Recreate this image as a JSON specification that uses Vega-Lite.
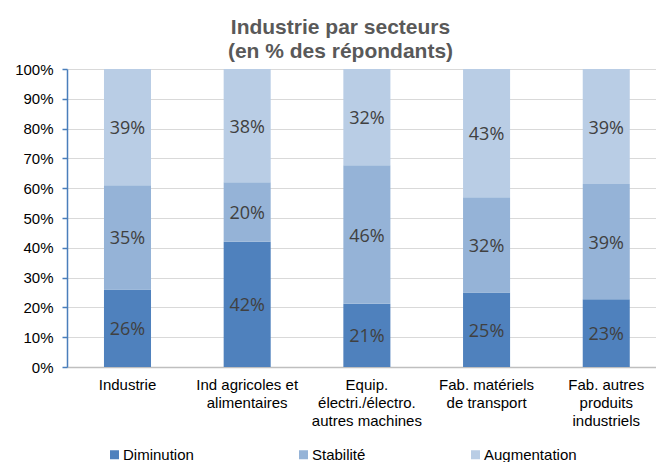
{
  "$schema": "https://vega.github.io/schema/vega-lite/v6.json",
  "width": 589,
  "height": 298,
  "autosize": {"type": "none"},
  "padding": {"left": 67, "top": 69, "right": 0, "bottom": 95},
  "background": "white",
  "config": {
    "view": {"stroke": null},
    "axisY": {
      "title": null,
      "values": [0, 0.1, 0.2, 0.3, 0.4, 0.5, 0.6, 0.7, 0.8, 0.9, 1],
      "format": ".0%",
      "labelOverlap": false,
      "labelFont": "Liberation Sans",
      "labelFontSize": 15,
      "labelColor": "#000000",
      "labelPadding": 9,
      "tickSize": 5,
      "tickColor": "#4A7EBB",
      "tickWidth": 1.5,
      "domainColor": "#4A7EBB",
      "domainWidth": 1.5,
      "grid": true,
      "gridColor": "#D9D9D9",
      "gridWidth": 1.2
    }
  },
  "title": {
    "text": ["Industrie par secteurs", "(en % des répondants)"],
    "font": "Liberation Sans",
    "fontSize": 21,
    "fontWeight": "bold",
    "color": "#595959",
    "lineHeight": 24,
    "anchor": "middle",
    "dx": -21,
    "offset": 0
  },
  "data": {
    "values": [
      {"secteur": "Industrie", "serie": "Diminution", "part": 0.26},
      {"secteur": "Industrie", "serie": "Stabilité", "part": 0.35},
      {"secteur": "Industrie", "serie": "Augmentation", "part": 0.39},
      {"secteur": "Ind agricoles et|alimentaires", "serie": "Diminution", "part": 0.42},
      {"secteur": "Ind agricoles et|alimentaires", "serie": "Stabilité", "part": 0.20},
      {"secteur": "Ind agricoles et|alimentaires", "serie": "Augmentation", "part": 0.38},
      {"secteur": "Equip.|électri./électro.|autres machines", "serie": "Diminution", "part": 0.21},
      {"secteur": "Equip.|électri./électro.|autres machines", "serie": "Stabilité", "part": 0.46},
      {"secteur": "Equip.|électri./électro.|autres machines", "serie": "Augmentation", "part": 0.32},
      {"secteur": "Fab. matériels|de transport", "serie": "Diminution", "part": 0.25},
      {"secteur": "Fab. matériels|de transport", "serie": "Stabilité", "part": 0.32},
      {"secteur": "Fab. matériels|de transport", "serie": "Augmentation", "part": 0.43},
      {"secteur": "Fab. autres|produits|industriels", "serie": "Diminution", "part": 0.23},
      {"secteur": "Fab. autres|produits|industriels", "serie": "Stabilité", "part": 0.39},
      {"secteur": "Fab. autres|produits|industriels", "serie": "Augmentation", "part": 0.39}
    ]
  },
  "transform": [
    {"calculate": "indexof(['Diminution','Stabilité','Augmentation'], datum.serie)", "as": "ordre"},
    {"stack": "part", "groupby": ["secteur"], "sort": [{"field": "ordre", "order": "ascending"}], "offset": "normalize", "as": ["y0", "y1"]},
    {"calculate": "(datum.y0 + datum.y1) / 2", "as": "ymid"}
  ],
  "encoding": {
    "x": {
      "field": "secteur",
      "type": "nominal",
      "sort": null,
      "scale": {"paddingInner": 0.607, "paddingOuter": 0.264, "align": 0.585},
      "axis": {
        "title": null,
        "labelAngle": 0,
        "labelExpr": "split(datum.value, '|')",
        "labelFont": "Liberation Sans",
        "labelFontSize": 15,
        "labelColor": "#000000",
        "labelLineHeight": 18,
        "labelPadding": 10,
        "ticks": false,
        "domainColor": "#BFBFBF",
        "domainWidth": 1.5,
        "grid": false
      }
    }
  },
  "layer": [
    {
      "mark": {"type": "bar"},
      "encoding": {
        "y": {
          "field": "y0",
          "type": "quantitative",
          "scale": {"domain": [0, 1], "nice": false},
          "axis": {"values": [0, 0.1, 0.2, 0.3, 0.4, 0.5, 0.6, 0.7, 0.8, 0.9, 1], "labelOverlap": false}
        },
        "y2": {"field": "y1"},
        "color": {
          "field": "serie",
          "type": "nominal",
          "scale": {
            "domain": ["Diminution", "Stabilité", "Augmentation"],
            "range": ["#4F81BD", "#95B3D7", "#B9CDE5"]
          },
          "legend": {
            "title": null,
            "orient": "none",
            "legendX": 40,
            "legendY": 378,
            "direction": "horizontal",
            "columns": 3,
            "columnPadding": 102,
            "symbolType": "square",
            "symbolSize": 81,
            "symbolStrokeWidth": 0,
            "labelFont": "Liberation Sans",
            "labelFontSize": 15,
            "labelColor": "#000000",
            "labelOffset": 1
          }
        }
      }
    },
    {
      "mark": {"type": "text", "font": "Open Sans", "fontSize": 18, "color": "#404040", "baseline": "middle", "dy": 2},
      "encoding": {
        "y": {
          "field": "ymid",
          "type": "quantitative",
          "axis": {"values": [0, 0.1, 0.2, 0.3, 0.4, 0.5, 0.6, 0.7, 0.8, 0.9, 1], "labelOverlap": false}
        },
        "text": {"field": "part", "type": "quantitative", "format": ".0%"}
      }
    }
  ]
}
